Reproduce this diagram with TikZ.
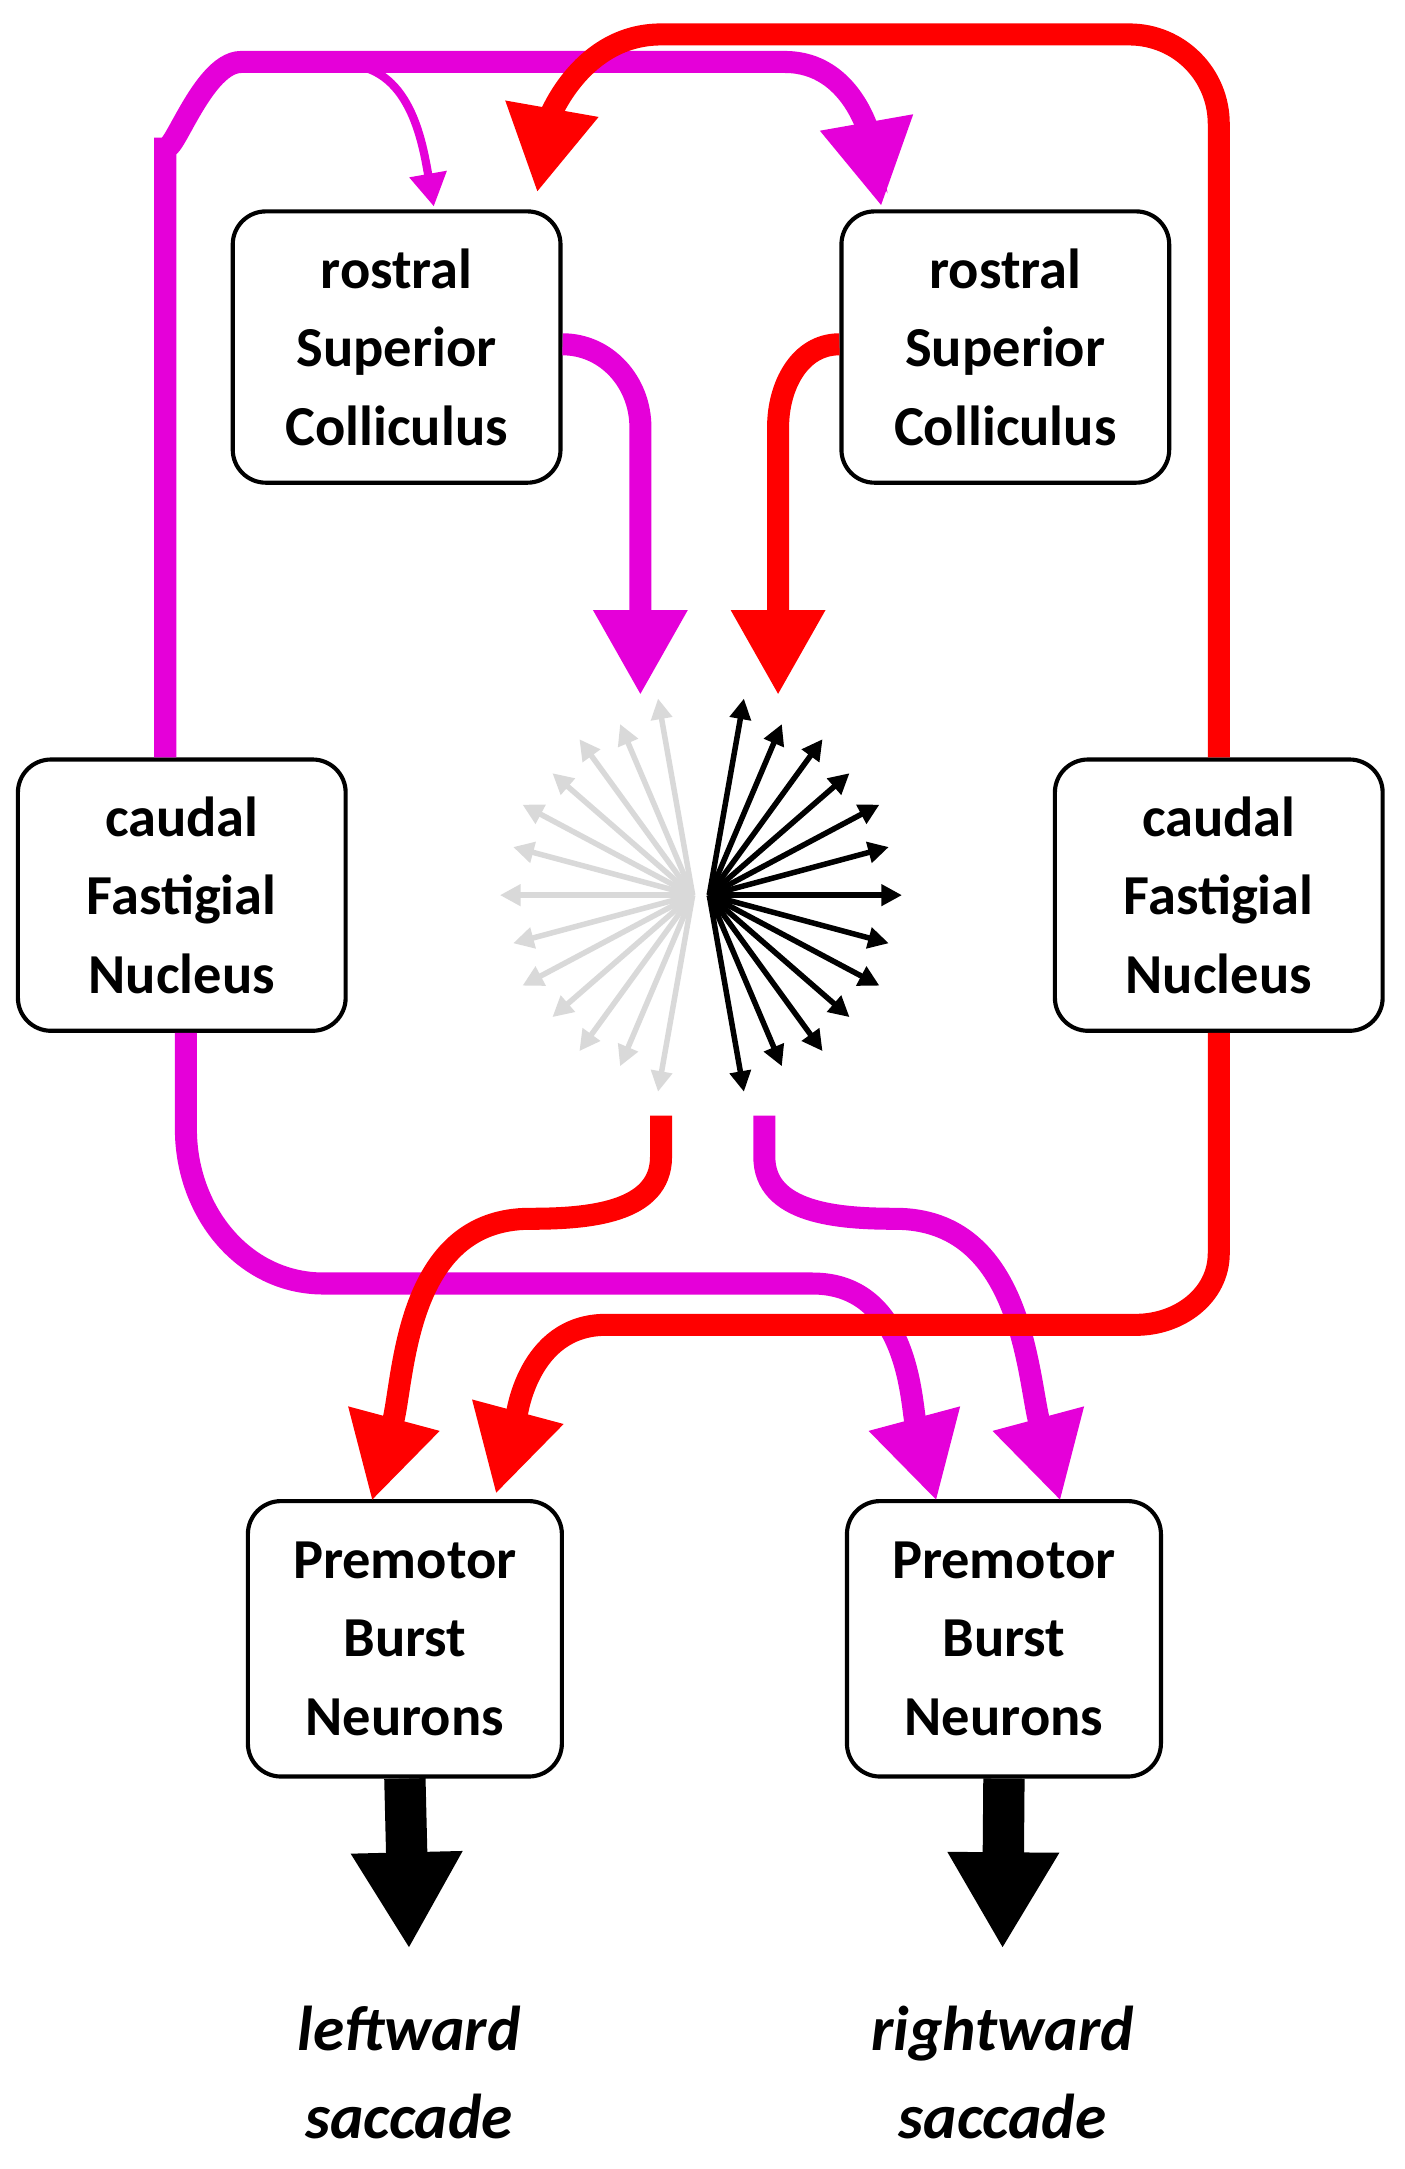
\documentclass[tikz,border=0pt]{standalone}
\usepackage{fontspec}
\setmainfont{Carlito}
\usetikzlibrary{arrows.meta}
\definecolor{mag}{rgb}{0.9,0,0.85}
\definecolor{rd}{rgb}{1,0,0}
\begin{document}
\begin{tikzpicture}[x=1pt,y=-1pt,
  box/.style={draw,line width=3pt,rounded corners=24pt,minimum width=238pt,minimum height=197pt,align=center,font=\bfseries\fontsize{41}{57}\selectfont},
  big/.style={line width=16pt,-{Triangle[width=64pt,length=62pt]}},
  lab/.style={font=\bfseries\itshape\fontsize{46}{64}\selectfont,align=center},
  blk/.style={line width=4pt,-{Triangle[width=15pt,length=15pt]}},
  gry/.style={blk,color=black!15}]
\useasboundingbox (0,0) rectangle (1020,1575);
\node[box] (rscL) at (288,252) {rostral\\Superior\\Colliculus};
\node[box] (rscR) at (730,252) {rostral\\Superior\\Colliculus};
\node[box] (cfnL) at (132,650) {caudal\\Fastigial\\Nucleus};
\node[box] (cfnR) at (885,650) {caudal\\Fastigial\\Nucleus};
\node[box,minimum width=228pt,minimum height=200pt] (pbnL) at (294,1190) {Premotor\\Burst\\Neurons};
\node[box,minimum width=228pt,minimum height=200pt] (pbnR) at (729,1190) {Premotor\\Burst\\Neurons};
\node[lab] (lL) at (297,1505) {leftward\\saccade};
\node[lab] (lR) at (728,1505) {rightward\\saccade};
\coordinate (aL) at (297,1415);
\coordinate (aR) at (728,1415);
\draw[line width=30pt,-{Triangle[width=76pt,length=70pt]}] (pbnL.south) -- (aL);
\draw[line width=30pt,-{Triangle[width=76pt,length=70pt]}] (pbnR.south) -- (aR);
% starburst
\coordinate (cg) at (503,650);
\coordinate (cb) at (515,650);
\foreach \a/\r in {100/145,113/135,126/140,139/135,152/140,165/135,180/140,195/135,208/140,221/135,234/140,247/135,260/145}
  \draw[gry] (cg) -- ++(\a:\r);
\foreach \a/\r in {-80/145,-67/135,-54/140,-41/135,-28/140,-15/135,0/140,15/135,28/140,41/135,54/140,67/135,80/145}
  \draw[blk] (cb) -- ++(\a:\r);
% magenta
\draw[big,color=mag] (cfnL.north -| 120,0) -- (120,100) to[out=-90,in=180] (175,45) -- (570,45) to[out=0,in=100] (640,150);
\draw[line width=6pt,color=mag,-{Triangle[width=26pt,length=24pt]}] (250,47) to[out=0,in=100] (315,150);
\draw[big,color=mag] (rscL.east |- 0,250) to[out=0,in=90] (465,310) -- (465,505);
\draw[big,color=mag] (cfnL.south -| 135,0) -- (135,820) to[out=-90,in=180] (235,932) -- (590,932) to[out=0,in=105] (680,1090);
\draw[big,color=mag] (555,810) -- (555,840) to[out=-90,in=180] (650,885) to[out=0,in=105] (770,1090);
% red
\draw[big,color=rd] (cfnR.north -| 885,0) -- (885,90) to[out=90,in=0] (820,25) -- (480,25) to[out=180,in=80] (390,140);
\draw[big,color=rd] (rscR.west |- 0,250) to[out=180,in=90] (565,310) -- (565,505);
\draw[big,color=rd] (480,810) -- (480,840) to[out=-90,in=0] (385,885) to[out=180,in=75] (270,1090);
\draw[big,color=rd] (cfnR.south -| 885,0) -- (885,910) to[out=-90,in=0] (825,962) -- (440,962) to[out=180,in=75] (360,1085);
\end{tikzpicture}
\end{document}
